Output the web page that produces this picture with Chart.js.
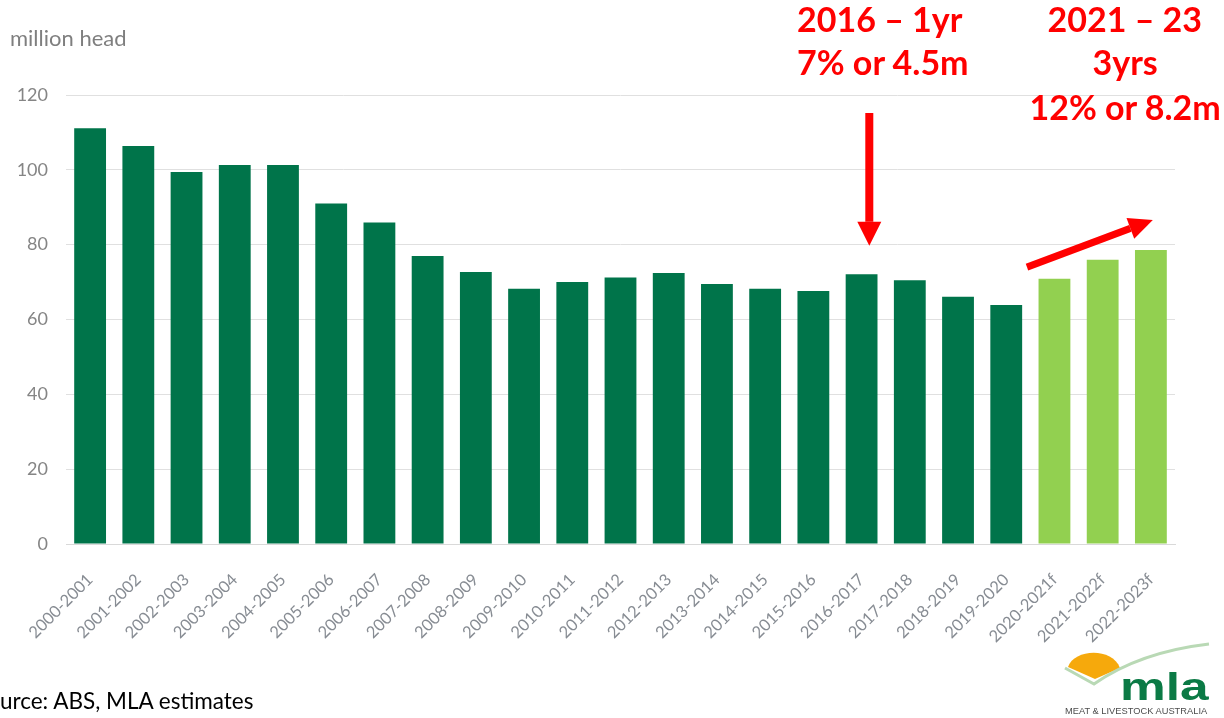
<!DOCTYPE html>
<html>
<head>
<meta charset="utf-8">
<script src="https://cdn.jsdelivr.net/npm/chart.js@4.4.1/dist/chart.umd.min.js"></script>
<style>
  html, body { margin:0; padding:0; background:#ffffff; }
  #wrap { position:relative; width:1224px; height:718px; overflow:hidden; background:#fff; }
  #c { position:absolute; left:0; top:0; }
  .t { position:absolute; white-space:nowrap; line-height:1; font-family:Lato, "Open Sans", sans-serif; }
</style>
</head>
<body>
<div id="wrap">
  <canvas id="c" width="1224" height="718"></canvas>
</div>
<script>
// ---- data ----
const categories = ["2000-2001","2001-2002","2002-2003","2003-2004","2004-2005","2005-2006","2006-2007","2007-2008","2008-2009","2009-2010","2010-2011","2011-2012","2012-2013","2013-2014","2014-2015","2015-2016","2016-2017","2017-2018","2018-2019","2019-2020","2020-2021f","2021-2022f","2022-2023f"];
const headCount = [111.1,106.4,99.4,101.3,101.3,91.0,85.9,77.0,72.7,68.2,70.0,71.2,72.4,69.5,68.2,67.6,72.1,70.5,66.1,63.9,70.9,76.0,78.6];
const isForecast = categories.map(c => c.endsWith("f"));
const yTickValues = [0,20,40,60,80,100,120];
const unitLabel = "million head";
const sourceLabel = "Source: ABS, MLA estimates";
const note2016 = ["2016 \u2013 1yr", "7% or 4.5m"];
const note2021 = ["2021 \u2013 23", "3yrs", "12% or 8.2m"];

const DARK = "#00744a";
const LIGHT = "#92d050";

// arrows described in data space (category index, value)
const arrows = [
  {from:[16.16, 115.2], to:[16.16, 79.7], width:8, head:24, half:12},
  {from:[19.43, 74.0], to:[22.04, 86.6], width:7, head:24, half:11}
];

function drawArrow(ctx, x1, y1, x2, y2, w, head, half) {
  const ang = Math.atan2(y2 - y1, x2 - x1);
  const bx = x2 - head * Math.cos(ang), by = y2 - head * Math.sin(ang);
  ctx.save();
  ctx.strokeStyle = "#ff0000"; ctx.fillStyle = "#ff0000";
  ctx.lineWidth = w; ctx.lineCap = "butt";
  ctx.beginPath(); ctx.moveTo(x1, y1); ctx.lineTo(bx, by); ctx.stroke();
  ctx.beginPath();
  ctx.moveTo(x2, y2);
  ctx.lineTo(bx + half * Math.sin(ang), by - half * Math.cos(ang));
  ctx.lineTo(bx - half * Math.sin(ang), by + half * Math.cos(ang));
  ctx.closePath(); ctx.fill();
  ctx.restore();
}

const overlay = {
  id: "overlay",
  afterDraw(chart) {
    const ctx = chart.ctx;
    const xs = chart.scales.x, ys = chart.scales.y;
    arrows.forEach(a => {
      drawArrow(ctx, xs.getPixelForValue(a.from[0]), ys.getPixelForValue(a.from[1]),
                xs.getPixelForValue(a.to[0]), ys.getPixelForValue(a.to[1]), a.width, a.head, a.half);
    });
    // MLA logo shapes
    ctx.save();
    ctx.fillStyle = "#f6a90c";
    ctx.beginPath();
    ctx.moveTo(1068, 667);
    ctx.bezierCurveTo(1074, 649, 1112, 647, 1120, 668);
    ctx.lineTo(1095, 679);
    ctx.closePath(); ctx.fill();
    ctx.strokeStyle = "#b9d9b5"; ctx.lineWidth = 3;
    ctx.beginPath();
    ctx.moveTo(1065, 668);
    ctx.lineTo(1094, 684);
    ctx.quadraticCurveTo(1140, 652, 1209, 644);
    ctx.stroke();
    ctx.restore();
  }
};

new Chart(document.getElementById("c"), {
  type: "bar",
  data: {
    labels: categories,
    datasets: [{
      data: headCount,
      backgroundColor: isForecast.map(f => f ? LIGHT : DARK),
      borderWidth: 0,
      barPercentage: 0.66,
      categoryPercentage: 1.0
    }]
  },
  options: {
    responsive: false,
    devicePixelRatio: 1,
    animation: false,
    layout: { padding: { top: 95, right: 49, left: 0, bottom: 0 } },
    plugins: { legend: { display: false }, tooltip: { enabled: false } },
    scales: {
      x: {
        grid: { display: false, drawTicks: false },
        border: { display: true, color: "#d9d9d9", width: 1 },
        ticks: {
          autoSkip: false, minRotation: 45, maxRotation: 45, padding: 26,
          color: "#878c93", font: { family: "Lato", size: 16.5 }
        },
        afterFit(s) { s.height = 174; }
      },
      y: {
        min: 0, max: 120,
        afterBuildTicks(s) { s.ticks = yTickValues.map(v => ({ value: v })); },
        grid: { color: "#e0e0e0", lineWidth: 1, drawTicks: false },
        border: { display: false },
        ticks: { padding: 18, color: "#858585", font: { family: "Lato", size: 18 } },
        afterFit(s) { s.width = 66; }
      }
    }
  },
  plugins: [overlay]
});

// ---- HTML text ----
const wrap = document.getElementById("wrap");
function place(text, o) {
  const d = document.createElement("div");
  d.className = "t";
  d.textContent = text;
  d.style.fontSize = o.size + "px";
  d.style.fontWeight = o.weight || 400;
  d.style.color = o.color || "#000";
  if (o.family) d.style.fontFamily = o.family;
  const asc = o.ascent != null ? o.ascent : 0.887;
  d.style.top = (o.baseline - asc * o.size) + "px";
  wrap.appendChild(d);
  if (o.center != null) {
    d.style.left = (o.center - d.offsetWidth / 2) + "px";
  } else {
    d.style.left = o.left + "px";
  }
  if (o.fit) {
    const w = d.offsetWidth;
    d.style.transformOrigin = "0 0";
    d.style.transform = "scaleX(" + (o.fit / w) + ")";
  }
  return d;
}

place(unitLabel, { left: 10, baseline: 47, size: 22, color: "#7f7f7f" });

// source line (left part clipped as in reference)
(function () {
  const probe = document.createElement("span");
  probe.className = "t";
  probe.style.fontSize = "22.5px";
  probe.style.visibility = "hidden";
  probe.textContent = sourceLabel.slice(0, 2);
  wrap.appendChild(probe);
  const w = probe.offsetWidth;
  wrap.removeChild(probe);
  place(sourceLabel, { left: -w, baseline: 710, size: 22.5, color: "#000" });
})();

note2016.forEach((s, i) => place(s, { left: 797, baseline: [32, 75][i], size: 34, weight: 700, color: "#ff0000" }));
note2021.forEach((s, i) => place(s, { center: 1125, baseline: [32, 75, 120][i], size: 34, weight: 700, color: "#ff0000" }));

// logo text
place("mla", { left: 1120, baseline: 700, size: 38, weight: 700, color: "#0b7a45",
  family: "'Liberation Sans', Arial, sans-serif", ascent: 0.8465, fit: 88 });
place("MEAT & LIVESTOCK AUSTRALIA", { left: 1065, baseline: 714, size: 9.5, color: "#4d4d4d",
  family: "'Liberation Sans', Arial, sans-serif", ascent: 0.8465, fit: 142 });
</script>
</body>
</html>
